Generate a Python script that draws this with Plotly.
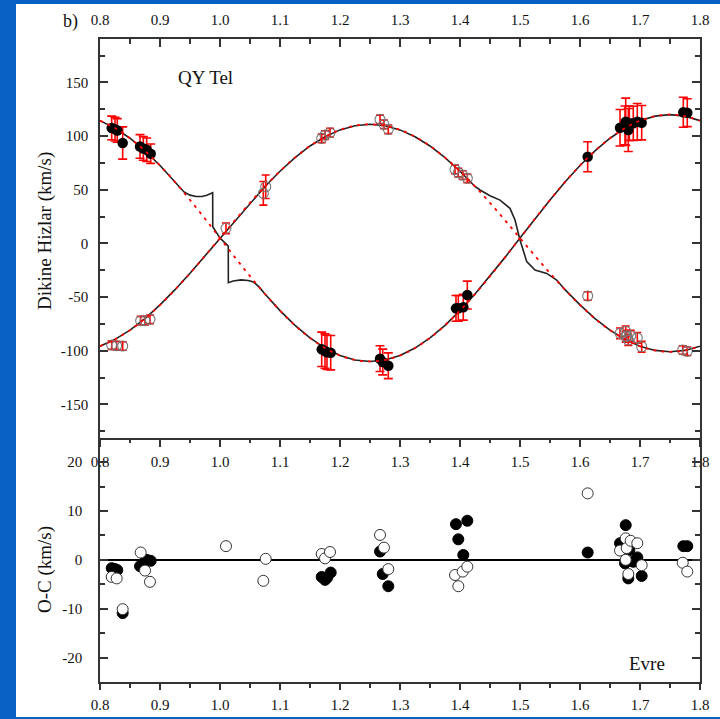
import plotly.graph_objects as go

# ---------------- data ----------------
# model curves, phase step 0.025
phase_model = [0.800, 0.825, 0.850, 0.875, 0.900, 0.925, 0.950, 0.975, 1.000, 1.025,
               1.050, 1.075, 1.100, 1.125, 1.150, 1.175, 1.200, 1.225, 1.250, 1.275,
               1.300, 1.325, 1.350, 1.375, 1.400, 1.425, 1.450, 1.475, 1.500, 1.525,
               1.550, 1.575, 1.600, 1.625, 1.650, 1.675, 1.700, 1.725, 1.750, 1.775, 1.800]
v1_model = [114.4, 107.5, 98.0, 86.3, 72.6, 57.2, 40.5, 23.0, 5.0, -13.0,
            -30.5, -47.2, -62.6, -76.3, -88.0, -97.5, -104.4, -108.6, -110.0, -108.6,
            -104.4, -97.5, -88.0, -76.3, -62.6, -47.2, -30.5, -13.0, 5.0, 23.0,
            40.5, 57.2, 72.6, 86.3, 98.0, 107.5, 114.4, 118.6, 120.0, 118.6, 114.4]
v2_model = [-95.8, -89.4, -80.8, -70.0, -57.3, -43.1, -27.8, -11.6, 5.0, 21.6,
            37.8, 53.1, 67.3, 80.0, 90.8, 99.4, 105.8, 109.7, 111.0, 109.7,
            105.8, 99.4, 90.8, 80.0, 67.3, 53.1, 37.8, 21.6, 5.0, -11.6,
            -27.8, -43.1, -57.3, -70.0, -80.8, -89.4, -95.8, -99.7, -101.0, -99.7, -95.8]

# eclipse-distorted parts of the solid model curve
ecl1_phase = [0.915, 0.928, 0.940, 0.950, 0.960, 0.970, 0.978, 0.9878, 0.9879, 1.000,
              1.0138, 1.0139, 1.022, 1.035, 1.047, 1.056, 1.065]
ecl1_v1 = [63.5, 55.0, 48.0, 45.0, 43.7, 43.8, 44.8, 47.2, 15.5, 5.0,
           -2.5, -36.6, -35.0, -34.0, -34.5, -36.0, -40.5]
ecl2_phase = [1.4333, 1.450, 1.4667, 1.4833, 1.4917, 1.500, 1.5112, 1.525, 1.5445, 1.5612]
ecl2_v2 = [49.8, 44.5, 40.4, 32.7, 21.8, 3.2, -17.0, -24.8, -27.9, -34.1]

# primary (filled) radial velocities
p1_phase = [0.8195, 0.8250, 0.8288, 0.8378, 0.8667, 0.8722, 0.8778, 0.8845,
            1.1695, 1.1750, 1.1783, 1.1845, 1.2667, 1.2712, 1.2805,
            1.3933, 1.3972, 1.4055, 1.4122, 1.6128,
            1.6667, 1.6762, 1.6750, 1.6805, 1.6822, 1.6888, 1.6955, 1.7028,
            1.7722, 1.7788]
p1_rv = [107.6, 106.5, 105.3, 93.6, 90.4, 88.5, 87.3, 83.6,
         -98.7, -100.3, -101.5, -101.8, -107.4, -110.5, -114.0,
         -60.5, -60.5, -59.5, -48.1, 80.8,
         107.8, 113.4, 110.0, 105.7, 112.0, 111.9, 113.4, 112.5,
         122.2, 121.8]
p1_err = [11, 11, 11, 15, 11, 11, 11, 9,
          16, 16, 16, 16, 12, 12, 12,
          12, 12, 12, 13, 14,
          17, 22, 18, 20, 16, 16, 17, 16,
          14, 13]
p1_oc = [-1.7, -1.9, -2.1, -10.9, -1.3, -0.7, 0.0, -0.2,
         -3.5, -4.1, -3.7, -2.6, 1.7, -2.9, -5.4,
         7.3, 4.2, 1.0, 8.0, 1.5,
         3.4, 7.1, -0.7, -3.8, 2.0, -0.4, 0.5, -3.3,
         2.8, 2.8]

# secondary (open) radial velocities
p2_phase = [0.8195, 0.8278, 0.8378, 0.8678, 0.8750, 0.8833, 1.0100, 1.0722, 1.0762,
            1.1695, 1.1750, 1.1833, 1.2667, 1.2733, 1.2805,
            1.3917, 1.3972, 1.4045, 1.4122, 1.6128,
            1.6667, 1.6762, 1.6778, 1.6762, 1.6805, 1.6845, 1.6955, 1.7028,
            1.7712, 1.7788]
p2_rv = [-94.7, -95.3, -95.6, -72.0, -72.0, -70.7, 14.1, 46.7, 52.8,
         97.9, 101.0, 103.2, 115.6, 111.0, 106.3,
         69.0, 66.0, 63.7, 60.7, -49.0,
         -83.8, -82.0, -86.0, -87.0, -90.0, -86.0, -88.0, -96.3,
         -99.3, -100.5]
p2_err = [4, 4, 4, 4, 4, 4, 5, 11, 11,
          4, 4, 4, 4, 4, 4,
          4, 4, 4, 4, 4,
          5, 5, 5, 5, 5, 5, 5, 5,
          4, 4]
p2_oc = [-3.5, -3.8, -10.1, 1.5, -2.2, -4.5, 2.8, -4.3, 0.2,
         1.2, 0.3, 1.6, 5.1, 2.5, -1.9,
         -3.1, -5.4, -2.4, -1.4, 13.6,
         1.9, 4.4, 2.4, 0.0, -2.9, 3.9, 3.4, -1.1,
         -0.6, -2.4]

x_ticks = [0.8, 0.9, 1.0, 1.1, 1.2, 1.3, 1.4, 1.5, 1.6, 1.7, 1.8]
x_ticktext = ["0.8", "0.9", "1.0", "1.1", "1.2", "1.3", "1.4", "1.5", "1.6", "1.7", "1.8"]
y1_ticks = [-150, -100, -50, 0, 50, 100, 150]
y1_ticktext = ["-150", "-100", "-50", "0", "50", "100", "150"]
y2_ticks = [-20, -10, 0, 10, 20]
y2_ticktext = ["-20", "-10", "0", "10", "20"]

# ---------------- build solid curves ----------------
b1_x = [p for p in phase_model if p < ecl1_phase[0]] + ecl1_phase + \
       [p for p in phase_model if p > ecl1_phase[-1]]
b1_y = [v for p, v in zip(phase_model, v1_model) if p < ecl1_phase[0]] + ecl1_v1 + \
       [v for p, v in zip(phase_model, v1_model) if p > ecl1_phase[-1]]
b2_x = [p for p in phase_model if p < ecl2_phase[0]] + ecl2_phase + \
       [p for p in phase_model if p > ecl2_phase[-1]]
b2_y = [v for p, v in zip(phase_model, v2_model) if p < ecl2_phase[0]] + ecl2_v2 + \
       [v for p, v in zip(phase_model, v2_model) if p > ecl2_phase[-1]]

FONT = "Liberation Serif, Times New Roman, serif"
TXT = "#111111"
AX = "#333333"
RED = "#ff0000"

fig = go.Figure()
for bx, by in [(b1_x, b1_y), (b2_x, b2_y)]:
    fig.add_trace(go.Scatter(x=bx, y=by, mode="lines", xaxis="x", yaxis="y",
                             line=dict(color="#222222", width=1.6), hoverinfo="skip"))

fig.add_trace(go.Scatter(
    x=p2_phase, y=p2_rv, mode="markers", xaxis="x", yaxis="y",
    error_y=dict(type="data", array=p2_err, visible=True, color=RED, thickness=1.6, width=4),
    marker=dict(symbol="circle", size=10, color="rgba(255,255,255,0)",
                line=dict(color="#777777", width=1.1))))
fig.add_trace(go.Scatter(
    x=p1_phase, y=p1_rv, mode="markers", xaxis="x", yaxis="y",
    error_y=dict(type="data", array=p1_err, visible=True, color=RED, thickness=1.6, width=4.5),
    marker=dict(symbol="circle", size=10.5, color="#000000")))

for my in [v1_model, v2_model]:
    fig.add_trace(go.Scatter(x=phase_model, y=my, mode="lines", xaxis="x", yaxis="y",
                             line=dict(color=RED, width=1.8, dash="3px,5px", shape="spline"),
                             hoverinfo="skip"))

# O-C panel
fig.add_trace(go.Scatter(x=p1_phase, y=p1_oc, mode="markers", xaxis="x2", yaxis="y2",
                         marker=dict(symbol="circle", size=11, color="#000000",
                                     line=dict(color="#000000", width=1))))
fig.add_trace(go.Scatter(x=p2_phase, y=p2_oc, mode="markers", xaxis="x2", yaxis="y2",
                         marker=dict(symbol="circle", size=11, color="#ffffff",
                                     line=dict(color="#333333", width=1))))
# dummy trace for the top axis
fig.add_trace(go.Scatter(x=[None], y=[None], xaxis="x3", yaxis="y", showlegend=False))

tickfont = dict(family=FONT, size=15, color=TXT)
xcommon = dict(range=[0.8, 1.8], tickmode="array", tickvals=x_ticks, ticktext=x_ticktext,
               showgrid=False, zeroline=False, showline=True, linecolor=AX, linewidth=1.5,
               tickcolor=AX, tickwidth=1.5, tickfont=tickfont, automargin=False)

fig.update_layout(
    width=720, height=719,
    margin=dict(l=100, r=20, t=39, b=37, autoexpand=False),
    paper_bgcolor="#0862c5", plot_bgcolor="#ffffff",
    showlegend=False,
    xaxis=dict(domain=[0, 1], anchor="y", side="bottom", ticks="outside", ticklen=8,
               minor=dict(ticks="outside", ticklen=4, tickmode="linear", tick0=0.85, dtick=0.1,
                          tickcolor=AX, tickwidth=1.5),
               ticklabelstandoff=2, **xcommon),
    xaxis3=dict(overlaying="x", anchor="y", side="top", ticks="inside", ticklen=8,
                minor=dict(ticks="inside", ticklen=5, tickmode="linear", tick0=0.85, dtick=0.1,
                           tickcolor=AX, tickwidth=1.5),
                ticklabelstandoff=6, **xcommon),
    xaxis2=dict(domain=[0, 1], anchor="y2", side="bottom", ticks="outside", ticklen=6,
                minor=dict(ticks="outside", ticklen=4, tickmode="linear", tick0=0.85, dtick=0.1,
                           tickcolor=AX, tickwidth=1.5),
                ticklabelstandoff=2, **xcommon),
    yaxis=dict(domain=[0.38, 1], anchor="x", range=[-181, 190.5], tickmode="array",
               tickvals=y1_ticks, ticktext=y1_ticktext, ticks="inside", ticklen=8,
               minor=dict(ticks="inside", ticklen=5, tickmode="linear", tick0=25, dtick=50,
                          tickcolor=AX, tickwidth=1.5),
               mirror="ticks", showline=True, linecolor=AX, linewidth=1.5,
               tickcolor=AX, tickwidth=1.5, showgrid=False, zeroline=False,
               tickfont=tickfont, ticklabelstandoff=7, automargin=False),
    yaxis2=dict(domain=[0, 0.38], anchor="x2", range=[-25, 25], tickmode="array",
                tickvals=y2_ticks, ticktext=y2_ticktext, ticks="inside", ticklen=8,
                minor=dict(ticks="inside", ticklen=5, tickmode="linear", tick0=5, dtick=10,
                           tickcolor=AX, tickwidth=1.5),
                mirror="ticks", showline=True, linecolor=AX, linewidth=1.5,
                tickcolor=AX, tickwidth=1.5, showgrid=False,
                zeroline=True, zerolinecolor="#000000", zerolinewidth=1.5,
                tickfont=tickfont, ticklabelstandoff=13, automargin=False),
    shapes=[dict(type="rect", xref="paper", yref="paper", layer="below",
                 x0=(16 - 100) / 600, x1=(722 - 100) / 600,
                 y0=(682 - 717) / 643, y1=(682 - 4) / 643,
                 fillcolor="#ffffff", line=dict(width=0))],
)

ann = [
    ("b)", 70, 21, 0, 18),
    ("QY Tel", 205, 78, 0, 19),
    ("Evre", 647, 663, 0, 19),
    ("Dikine Hizlar (km/s)", 45, 231, -90, 19),
    ("O-C (km/s)", 45, 570, -90, 19),
]
for txt, px, py, ang, fs in ann:
    fig.add_annotation(text=txt, xref="paper", yref="paper",
                       x=(px - 100) / 600, y=(682 - py) / 643,
                       xanchor="center", yanchor="middle", textangle=ang,
                       showarrow=False, font=dict(family=FONT, size=fs, color=TXT))

fig.write_html("out.html")
